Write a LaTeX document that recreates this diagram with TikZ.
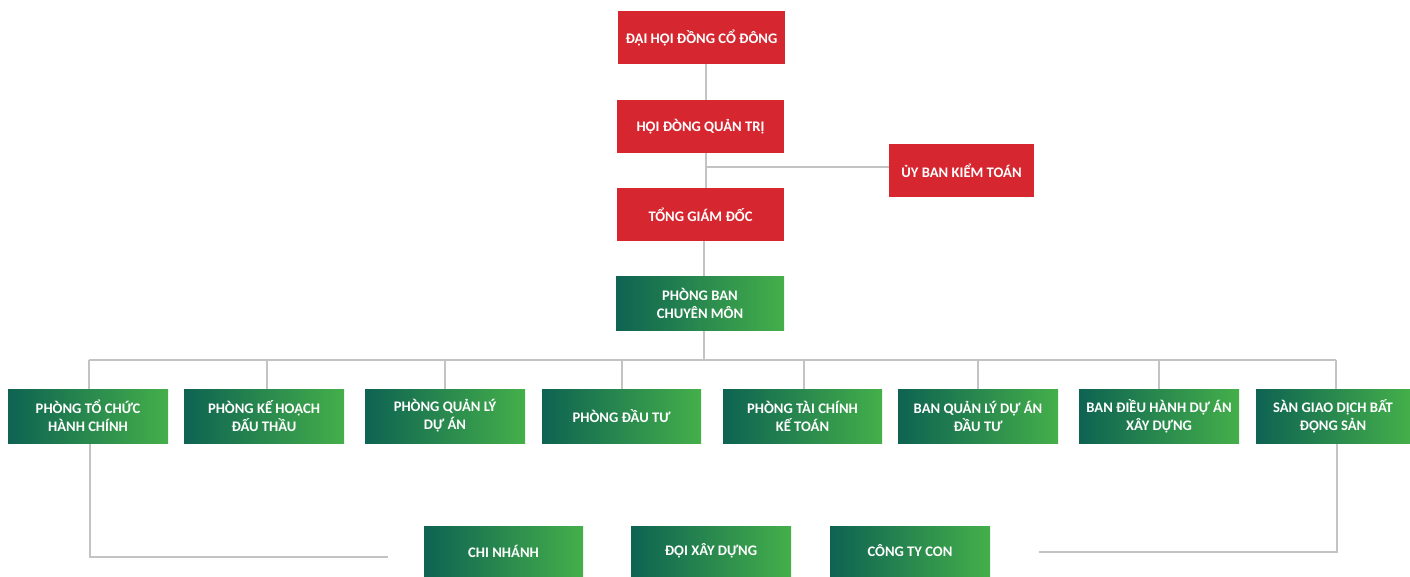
\documentclass[tikz,border=0pt]{standalone}
\usepackage{fontspec}
\setmainfont{Carlito}
\usetikzlibrary{backgrounds}
\definecolor{redc}{HTML}{D6262F}
\definecolor{gA}{HTML}{0E6352}
\definecolor{gM}{HTML}{187A55}
\definecolor{gB}{HTML}{44AF4A}
\definecolor{linec}{HTML}{C3C3C3}
\begin{document}
\begin{tikzpicture}[x=1pt,y=-1pt,
  box/.style={rectangle, inner sep=0pt, text=white, align=center,
    font=\bfseries\fontsize{14.6}{18}\selectfont},
  redbox/.style={box, fill=redc, minimum width=167pt, minimum height=53pt},
  greenbox/.style={box, left color=gA, middle color=gM, right color=gB, minimum width=160pt, minimum height=54pt},
  botbox/.style={greenbox, minimum height=50pt},
  conn/.style={draw=linec, line width=1.4pt}]
\useasboundingbox (0,0) rectangle (1410,576);
% red boxes
\node[redbox] (dh) at (701.5,37.5) {ĐẠI HỘI ĐỒNG CỔ ĐÔNG};
\node[redbox] (hd) at (700.5,126.5) {HỘI ĐÒNG QUẢN TRỊ};
\node[redbox, minimum width=145pt] (ub) at (961.5,170.5) {ỦY BAN KIỂM TOÁN};
\node[redbox] (tg) at (700.5,214.5) {TỔNG GIÁM ĐỐC};
% green
\node[greenbox, minimum width=168pt] (pb) at (700,303) {PHÒNG BAN\\CHUYÊN MÔN};
\node[greenbox] (b1) at (88,416) {PHÒNG TỔ CHỨC\\HÀNH CHÍNH};
\node[greenbox] (b2) at (264,416) {PHÒNG KẾ HOẠCH\\ĐẤU THẦU};
\node[greenbox] (b3) at (445,416) {PHÒNG QUẢN LÝ\\DỰ ÁN};
\node[greenbox, minimum width=159pt] (b4) at (621.5,416) {PHÒNG ĐẦU TƯ};
\node[greenbox, minimum width=159pt] (b5) at (802.5,416) {PHÒNG TÀI CHÍNH\\KẾ TOÁN};
\node[greenbox] (b6) at (978,416) {BAN QUẢN LÝ DỰ ÁN\\ĐẦU TƯ};
\node[greenbox] (b7) at (1159,416) {BAN ĐIỀU HÀNH DỰ ÁN\\XÂY DỰNG};
\node[greenbox, minimum width=154pt] (b8) at (1333,416) {SÀN GIAO DỊCH BẤT\\ĐỘNG SẢN};
\node[botbox, minimum width=159pt] (c1) at (503.5,551) {CHI NHÁNH};
\node[botbox] (c2) at (711,551) {ĐỘI XÂY DỰNG};
\node[botbox] (c3) at (910,551) {CÔNG TY CON};
% coordinates
\coordinate (busL) at (89,360);
\coordinate (busR) at (1336,360);
\coordinate (bus) at (704,360);
\coordinate (ubj) at (706,167);
\coordinate (lcorner) at (90,557);
\coordinate (lend) at (388,557);
\coordinate (rcorner) at (1337,552);
\coordinate (rend) at (1039,552);
\begin{scope}[on background layer]
\draw[conn] ([xshift=4.5pt]dh.south) -- ([xshift=5.5pt]hd.north);
\draw[conn] ([xshift=5.5pt]hd.south) -- ([xshift=5.5pt]tg.north);
\draw[conn] (ubj) -- (ub.west |- ubj);
\draw[conn] ([xshift=3.5pt]tg.south) -- ([xshift=4pt]pb.north);
\draw[conn] ([xshift=4pt]pb.south) -- (bus);
\draw[conn] (busL) -- (busR);
\draw[conn] (busL) -- (busL |- b1.north);
\draw[conn] ([xshift=3pt]b2.north) -- ([xshift=3pt]b2.north |- bus);
\draw[conn] (b3.north) -- (b3.north |- bus);
\draw[conn] ([xshift=0.5pt]b4.north) -- ([xshift=0.5pt]b4.north |- bus);
\draw[conn] ([xshift=1.5pt]b5.north) -- ([xshift=1.5pt]b5.north |- bus);
\draw[conn] (b6.north) -- (b6.north |- bus);
\draw[conn] (b7.north) -- (b7.north |- bus);
\draw[conn] (busR) -- (busR |- b8.north);
\draw[conn] (lcorner |- b1.south) -- (lcorner) -- (lend);
\draw[conn] (rcorner |- b8.south) -- (rcorner) -- (rend);
\end{scope}
\end{tikzpicture}
\end{document}
